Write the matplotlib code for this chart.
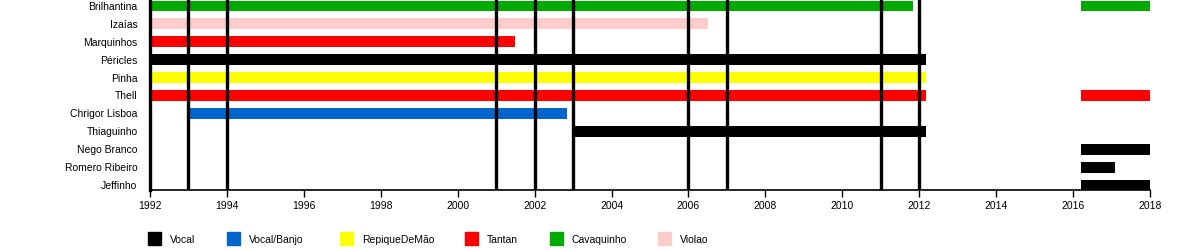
import matplotlib.pyplot as plt
from matplotlib.patches import Rectangle

plt.rcParams['font.family'] = ['Liberation Sans', 'DejaVu Sans']

members = ["Brilhantina", "Izaías", "Marquinhos", "Péricles", "Pinha", "Thell",
           "Chrigor Lisboa", "Thiaguinho", "Nego Branco", "Romero Ribeiro", "Jeffinho"]

# (member, start, end, role)
periods = [
    ("Brilhantina", 1992.0, 2011.84, "Cavaquinho"),
    ("Brilhantina", 2016.2, 2018.0, "Cavaquinho"),
    ("Izaías", 1992.0, 2006.5, "Violao"),
    ("Marquinhos", 1992.0, 2001.5, "Tantan"),
    ("Péricles", 1992.0, 2012.17, "Vocal"),
    ("Pinha", 1992.0, 2012.17, "RepiqueDeMão"),
    ("Thell", 1992.0, 2012.17, "Tantan"),
    ("Thell", 2016.2, 2018.0, "Tantan"),
    ("Chrigor Lisboa", 1993.0, 2002.83, "Vocal/Banjo"),
    ("Thiaguinho", 2003.0, 2012.17, "Vocal"),
    ("Nego Branco", 2016.2, 2018.0, "Vocal"),
    ("Romero Ribeiro", 2016.2, 2017.09, "Vocal"),
    ("Jeffinho", 2016.2, 2018.0, "Vocal"),
]

album_years = [1993, 1994, 2001, 2002, 2003, 2006, 2007, 2011, 2012]

roles = ["Vocal", "Vocal/Banjo", "RepiqueDeMão", "Tantan", "Cavaquinho", "Violao"]
role_colors = {"Vocal": "#000000", "Vocal/Banjo": "#0066cc", "RepiqueDeMão": "#ffff00",
               "Tantan": "#ff0000", "Cavaquinho": "#00aa00", "Violao": "#ffcccc"}

xticks = list(range(1992, 2019, 2))

fig = plt.figure(figsize=(12, 2.5), dpi=100)
ax = fig.add_axes([0.125, 0.24, 0.8333, 0.76])

for name, start, end, role in periods:
    ax.barh(members.index(name), end - start, left=start, height=0.61,
            color=role_colors[role], zorder=2)

for yr in album_years:
    ax.axvline(yr, color="black", linewidth=2.4, zorder=3)

ax.set_xlim(1992, 2018)
ax.set_ylim(10.28, -0.335)
ax.set_yticks(range(len(members)))
ax.set_yticklabels(members, fontsize=7.5)
ax.tick_params(axis="y", length=0, pad=9)
ax.set_xticks(xticks)
ax.set_xticklabels([str(x) for x in xticks], fontsize=7.5)
ax.tick_params(axis="x", length=5, width=1, pad=3)

for side in ["top", "right"]:
    ax.spines[side].set_visible(False)
ax.spines["left"].set_linewidth(2.4)
ax.spines["bottom"].set_linewidth(1.2)

# legend
leg_x = [148, 227, 340, 465, 550, 658]
for role, x in zip(roles, leg_x):
    fig.patches.append(Rectangle((x / 1200, 1 - 245 / 250), 13 / 1200, 13 / 250,
                                 transform=fig.transFigure, color=role_colors[role]))
    fig.text((x + 22) / 1200, 1 - 240 / 250, role, fontsize=7.5, va="center", ha="left")

fig.savefig("out.png", dpi=100)
